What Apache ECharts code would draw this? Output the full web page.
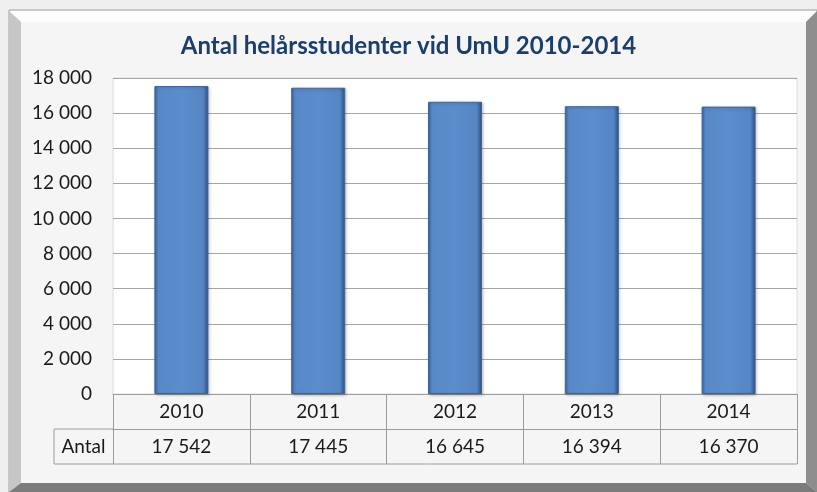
<!DOCTYPE html>
<html>
<head>
<meta charset="utf-8">
<script src="https://cdn.jsdelivr.net/npm/echarts@6/dist/echarts.min.js"></script>
<style>
  html, body { margin: 0; padding: 0; background: #efefef; }
  #main { width: 817px; height: 492px; }
</style>
</head>
<body>
<div id="main"></div>
<script>
// data
var years = ['2010', '2011', '2012', '2013', '2014'];
var antal = [17542, 17445, 16645, 16394, 16370];
var rowLabel = 'Antal';

function fmt(v) {
    return String(v).replace(/\B(?=(\d{3})+(?!\d))/g, ' ');
}

var FONT = 'Lato, "Open Sans", sans-serif';
// plot area
var gLeft = 113, gRight = 20, gTop = 78, gBottom = 98;
var W = 817, H = 492;
var axisY = H - gBottom;      // 394
var rowH = 35;
var tableLeft = 54;
var lineCol = '#9c9c9c';

var chart = echarts.init(document.getElementById('main'));

var option = {
    backgroundColor: '#efefef',
    animation: false,
    title: {
        text: 'Antal helårsstudenter vid UmU 2010-2014',
        left: 'center',
        top: 29,
        textStyle: { fontFamily: FONT, fontSize: 24, fontWeight: 'bold', color: '#1a3f6e' }
    },
    grid: {
        left: gLeft, right: gRight, top: gTop, bottom: gBottom,
        show: true, backgroundColor: '#ffffff', borderColor: '#dcdcdc', borderWidth: 1
    },
    xAxis: [{
        type: 'category',
        data: years,
        boundaryGap: true,
        axisLine: { show: true, lineStyle: { color: lineCol } },
        axisTick: { show: true, interval: 0, length: rowH * 2, lineStyle: { color: lineCol } },
        axisLabel: { margin: 8, fontFamily: FONT, fontSize: 19, color: '#1a1a1a' }
    }, {
        type: 'category',
        data: antal.map(fmt),
        position: 'bottom',
        offset: rowH,
        axisLine: { show: true, lineStyle: { color: lineCol } },
        axisTick: { show: false },
        axisLabel: { margin: 8, fontFamily: FONT, fontSize: 19, color: '#1a1a1a' }
    }],
    yAxis: {
        type: 'value',
        min: 0, max: 18000, interval: 2000,
        axisLine: { show: false },
        axisTick: { show: false },
        axisLabel: {
            margin: 21, fontFamily: FONT, fontSize: 19, color: '#1a1a1a',
            formatter: function (v) { return fmt(v); }
        },
        splitLine: { lineStyle: { color: '#a6a6a6' } }
    },
    series: [{
        type: 'bar',
        data: antal,
        barWidth: 54,
        itemStyle: {
            color: new echarts.graphic.LinearGradient(0, 0, 1, 0, [
                { offset: 0, color: '#3d67a0' },
                { offset: 0.07, color: '#5889c8' },
                { offset: 0.5, color: '#5b8dcc' },
                { offset: 0.9, color: '#5686c4' },
                { offset: 1, color: '#2d5081' }
            ]),
            borderColor: '#3e6498',
            borderWidth: 1,
            shadowColor: 'rgba(0,0,0,0.25)',
            shadowBlur: 3,
            shadowOffsetX: 1,
            shadowOffsetY: 1
        }
    }],
    graphic: [
        // bevelled frame
        { type: 'rect', silent: true, z: -10, shape: { x: 9, y: 10, width: W - 9, height: H - 10 },
          style: { fill: '#f5f5f5', stroke: '#a0a0a0', lineWidth: 1 } },
        { type: 'polygon', silent: true, z: -9, shape: { points: [[9, 11], [W, 11], [806, 22], [21, 22]] },
          style: { fill: '#fdfdfd' } },
        { type: 'polygon', silent: true, z: -9, shape: { points: [[9, 11], [21, 22], [21, 483], [9, H]] },
          style: { fill: '#c6c6c6' } },
        { type: 'polygon', silent: true, z: -9, shape: { points: [[W, 11], [W, H], [806, 483], [806, 22]] },
          style: { fill: '#8d8d8d' } },
        { type: 'polygon', silent: true, z: -9, shape: { points: [[9, H], [21, 483], [806, 483], [W, H]] },
          style: { fill: '#7c7c7c' } },
        // data table pieces outside the axes
        { type: 'line', silent: true, z: 5, shape: { x1: tableLeft, y1: axisY + rowH * 2, x2: W - gRight, y2: axisY + rowH * 2 },
          style: { stroke: lineCol, lineWidth: 1 } },
        { type: 'line', silent: true, z: 5, shape: { x1: tableLeft, y1: axisY + rowH, x2: gLeft, y2: axisY + rowH },
          style: { stroke: lineCol, lineWidth: 1 } },
        { type: 'line', silent: true, z: 5, shape: { x1: tableLeft, y1: axisY + rowH, x2: tableLeft, y2: axisY + rowH * 2 },
          style: { stroke: lineCol, lineWidth: 1 } },
        { type: 'text', silent: true, z: 5, x: (tableLeft + gLeft) / 2, y: axisY + rowH * 1.5,
          style: { text: rowLabel, fontFamily: FONT, fontSize: 19, fill: '#1a1a1a', align: 'center', verticalAlign: 'middle' } }
    ]
};

chart.setOption(option);
</script>
</body>
</html>
